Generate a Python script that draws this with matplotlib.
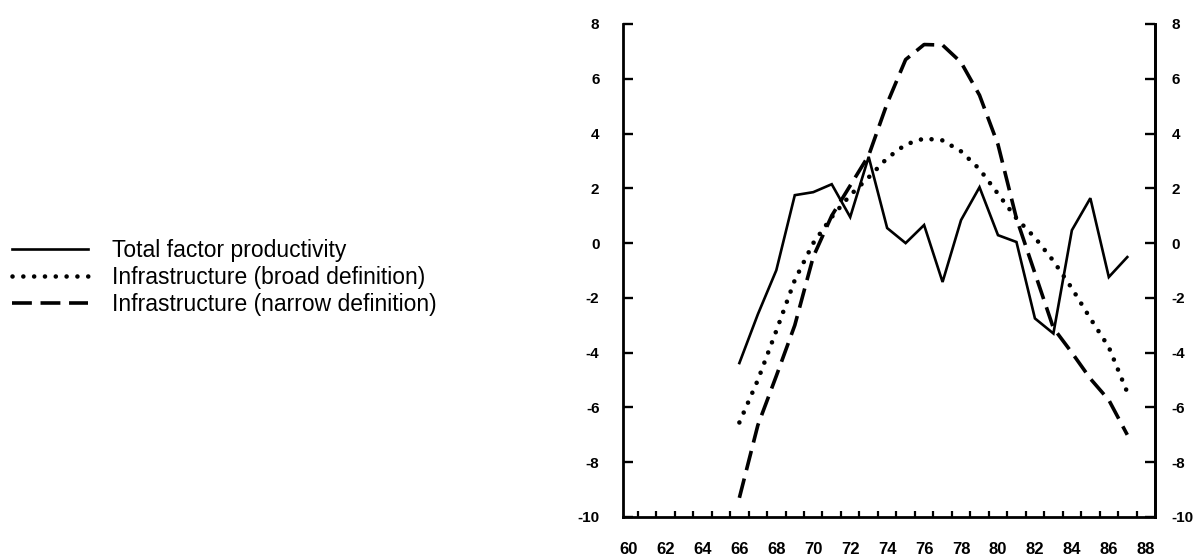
import matplotlib
matplotlib.use("Agg")
import matplotlib.pyplot as plt

# ---- data ----
years = list(range(66, 88))
tfp = [-4.38, -2.6, -0.99, 1.75, 1.86, 2.15, 0.95, 3.15, 0.55, 0.0, 0.66, -1.42,
       0.84, 2.04, 0.29, 0.04, -2.75, -3.3, 0.47, 1.64, -1.24, -0.51]
broad = [-6.55, -5.0, -3.2, -1.35, 0.0, 0.95, 1.75, 2.4, 3.1, 3.6, 3.82, 3.75,
         3.35, 2.7, 1.8, 0.9, 0.2, -0.65, -1.65, -2.75, -3.8, -5.45]
narrow = [-9.3, -6.65, -4.85, -3.0, -0.5, 1.0, 2.1, 3.2, 5.1, 6.7, 7.25, 7.23,
          6.6, 5.4, 3.6, 0.9, -1.1, -3.1, -4.0, -4.95, -5.73, -7.0]
series_labels = ["Total factor productivity",
                 "Infrastructure (broad definition)",
                 "Infrastructure (narrow definition)"]
x_label_years = list(range(60, 89, 2))
x_ticklabels = [str(v) for v in x_label_years]
x_minor = [v + 0.5 for v in range(60, 88)]
y_ticks = list(range(-10, 9, 2))

plt.rcParams['font.family'] = ['Liberation Sans', 'DejaVu Sans']

fig = plt.figure(figsize=(12.02, 5.58), dpi=100)
ax = fig.add_axes([0.5183, 0.0735, 0.4426, 0.8835])

l1, = ax.plot(years, tfp, color='black', lw=1.9, solid_joinstyle='miter')
l2, = ax.plot(years, broad, color='black', lw=3.3, linestyle=(0, (0.01, 2.35)),
              dash_capstyle='round')
l3, = ax.plot(years, narrow, color='black', lw=2.6, linestyle=(0, (5.5, 2.4)),
              dash_capstyle='butt')

ax.set_xlim(59.7, 88.5)
ax.set_ylim(-10, 8)

ax.spines['top'].set_visible(False)
for s in ('left', 'right', 'bottom'):
    ax.spines[s].set_linewidth(2.0)

ax.set_xticks(x_label_years)
ax.set_xticklabels(x_ticklabels, fontsize=12, fontweight='bold')
ax.set_xticks(x_minor, minor=True)
ax.tick_params(axis='x', which='major', length=0, pad=18)
ax.tick_params(axis='x', which='minor', direction='in', length=4.5, width=1.6)

ax.set_yticks(y_ticks)
ax.set_yticklabels([str(v) for v in y_ticks], fontsize=11, fontweight='bold')
ax.tick_params(axis='y', direction='in', length=7, width=1.7, pad=17)

ax2 = ax.twinx()
ax2.set_ylim(-10, 8)
ax2.set_yticks(y_ticks)
ax2.set_yticklabels([str(v) for v in y_ticks], fontsize=11, fontweight='bold')
ax2.tick_params(axis='y', direction='in', length=7, width=1.7, pad=12)
for s in ('top', 'left', 'bottom'):
    ax2.spines[s].set_visible(False)
ax2.spines['right'].set_linewidth(2.0)

fig.legend([l1, l2, l3], series_labels, loc='upper left',
           bbox_to_anchor=(0.01, 0.572), frameon=False, fontsize=16.5,
           handlelength=3.3, handletextpad=1.05, labelspacing=0.18,
           borderpad=0, borderaxespad=0)

fig.savefig("out.png", dpi=100)
